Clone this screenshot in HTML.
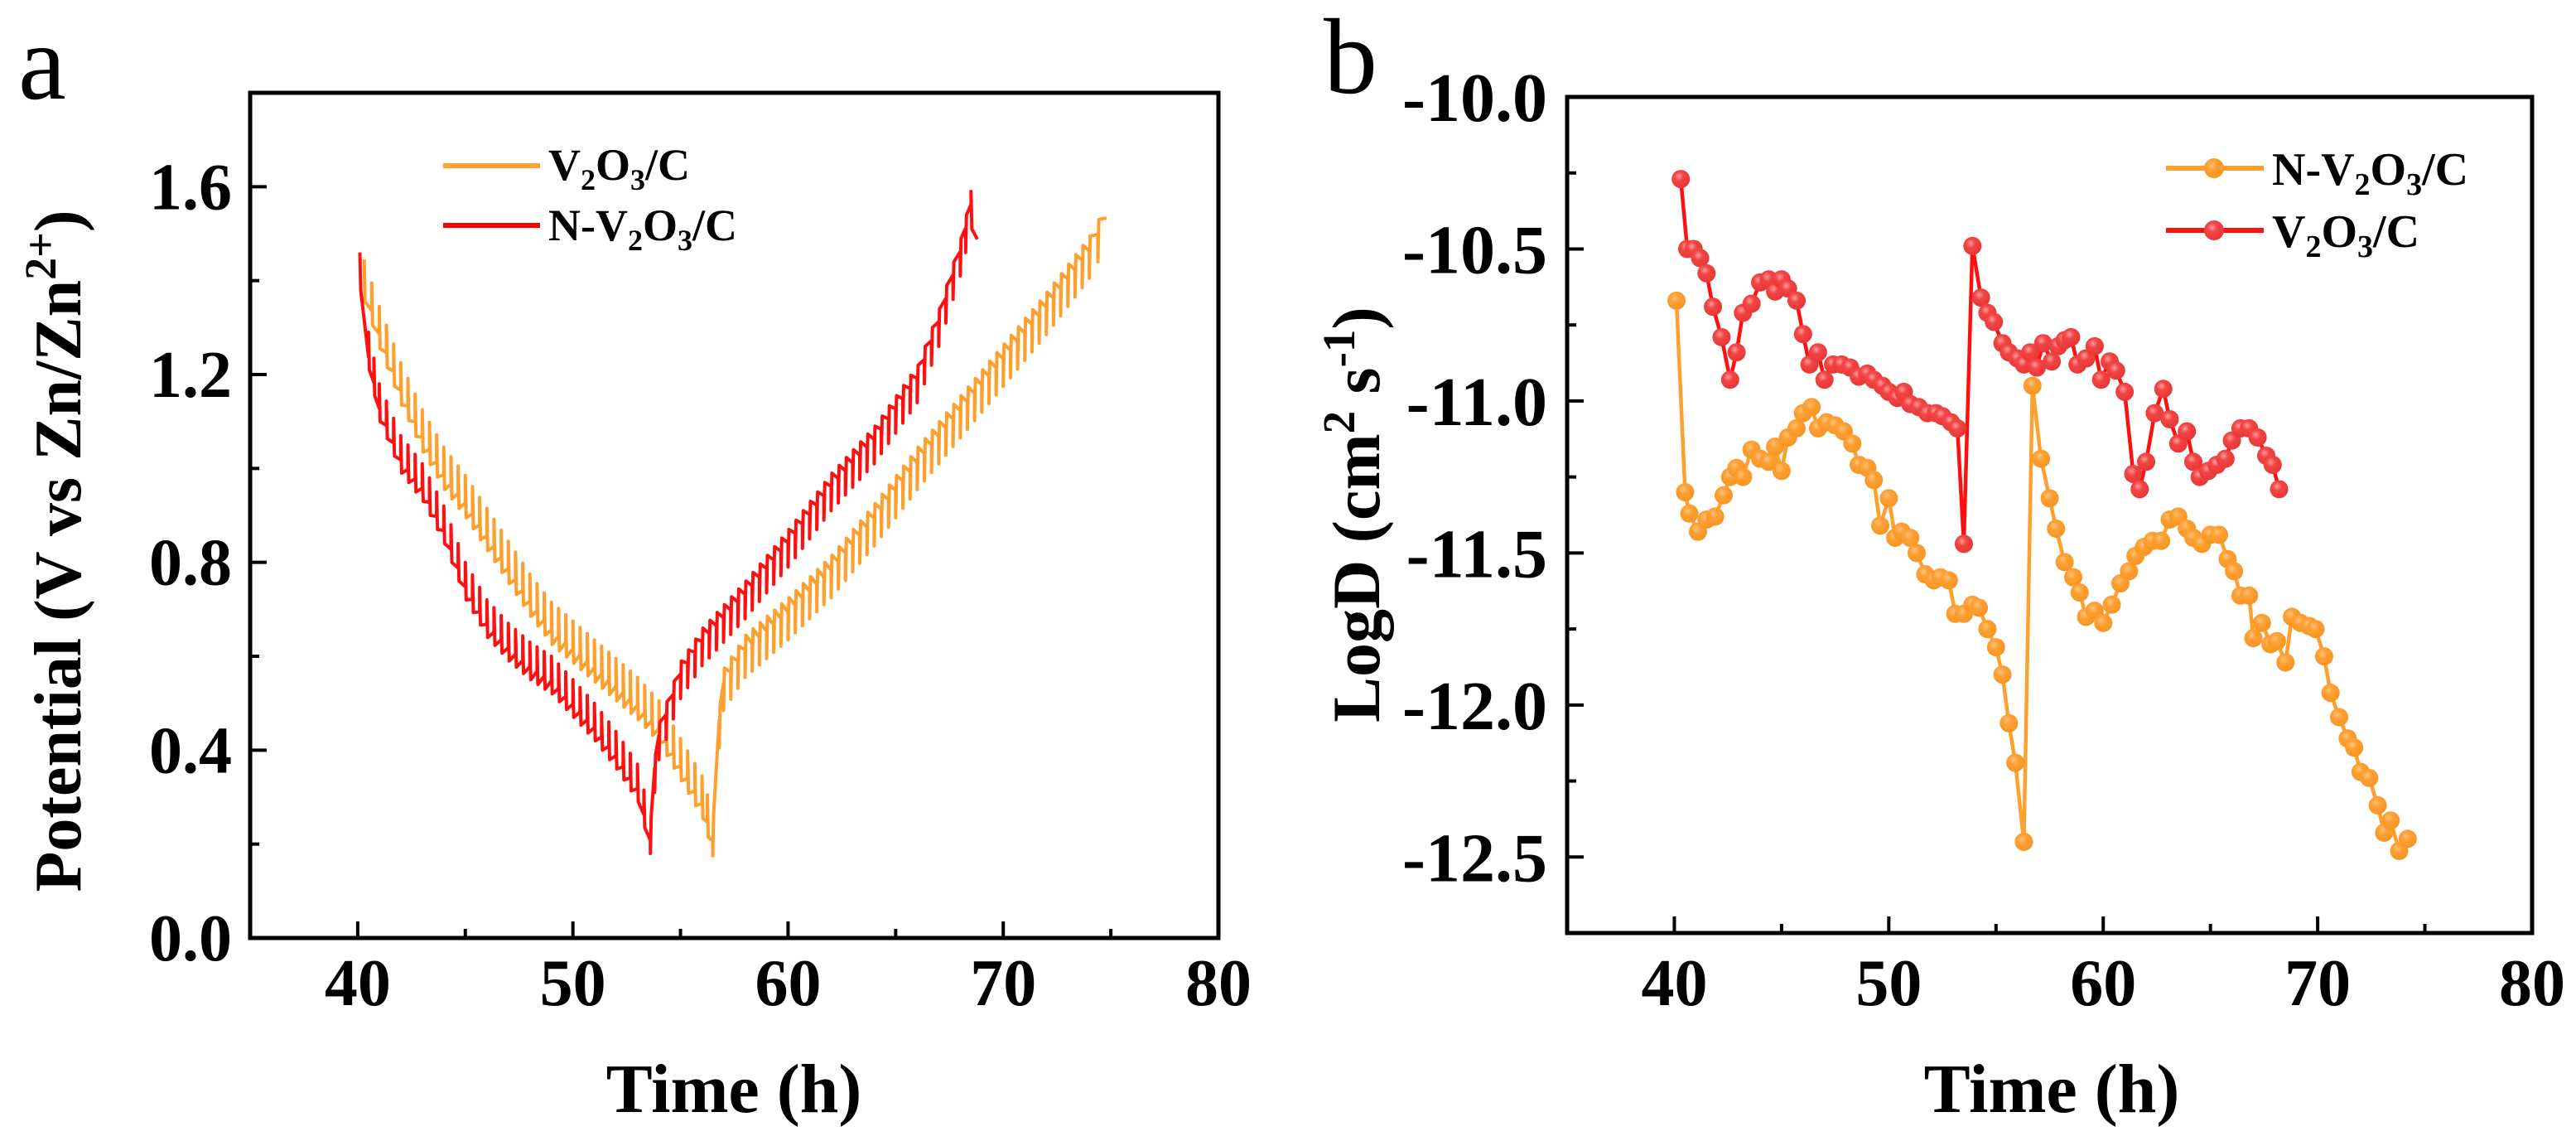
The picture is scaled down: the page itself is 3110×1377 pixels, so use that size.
<!DOCTYPE html>
<html><head><meta charset="utf-8"><style>
html,body{margin:0;padding:0;background:#fff;}
svg{display:block;font-family:"Liberation Serif",serif;}
</style></head><body>
<svg id="fig" width="3110" height="1377" viewBox="0 0 3110 1377" xmlns="http://www.w3.org/2000/svg">
<defs>
<radialGradient id="gO" cx="0.4" cy="0.35" r="0.7"><stop offset="0" stop-color="#FFC37A"/><stop offset="0.35" stop-color="#FFA035"/><stop offset="1" stop-color="#F59420"/></radialGradient>
<radialGradient id="gR" cx="0.4" cy="0.35" r="0.7"><stop offset="0" stop-color="#FF9A9A"/><stop offset="0.35" stop-color="#F24545"/><stop offset="1" stop-color="#E83434"/></radialGradient>
</defs>
<text x="22" y="119" font-size="130">a</text>
<text x="1598" y="112" font-size="130">b</text>
<g id="pa"></g>
<g id="pb"></g>
</svg>
<script>
// ---------- Panel a data (GITT envelope knots) ----------
const aV2O3Time = [40.3,41,42,43,44,45,46,47,48,49,50,51,52,53,54,55,56,56.5,56.8,57,58,60,62,64,66,68,70,72,74,74.8];
const aV2O3Pot  = [1.40,1.30,1.18,1.08,1.00,0.94,0.87,0.80,0.73,0.67,0.63,0.59,0.55,0.51,0.46,0.38,0.30,0.22,0.45,0.53,0.60,0.68,0.77,0.88,1.00,1.11,1.22,1.33,1.45,1.52];
const aNTime = [40.1,40.5,41,42,43,44,45,46,47,48,49,50,51,52,53,53.6,53.8,54,55,56,58,60,62,64,66,67,68,68.5,68.8];
const aNPot  = [1.42,1.25,1.14,1.03,0.97,0.88,0.76,0.68,0.63,0.59,0.56,0.51,0.46,0.40,0.33,0.22,0.35,0.42,0.55,0.62,0.72,0.83,0.95,1.05,1.18,1.30,1.45,1.55,1.50];
const aXTicks = [40,50,60,70,80];
const aYTicks = [0.0,0.4,0.8,1.2,1.6];
const aYLabels = ["0.0","0.4","0.8","1.2","1.6"];

// ---------- Panel b data ----------
const bNTime = [40.1,40.5,40.7,41.1,41.5,41.9,42.3,42.6,42.9,43.2,43.6,44.0,44.4,44.7,45.0,45.3,45.7,46.0,46.4,46.7,47.1,47.5,47.9,48.3,48.6,49.0,49.3,49.6,50.0,50.3,50.6,51.0,51.3,51.7,52.1,52.4,52.8,53.1,53.5,53.9,54.2,54.6,55.0,55.3,55.6,55.9,56.3,56.7,57.1,57.5,57.8,58.2,58.6,58.9,59.2,59.6,60.0,60.4,60.8,61.2,61.5,61.9,62.3,62.7,63.1,63.5,63.9,64.2,64.6,65.0,65.4,65.8,66.1,66.4,66.8,67.0,67.4,67.8,68.1,68.5,68.8,69.2,69.6,69.9,70.3,70.6,71.0,71.4,71.7,72.0,72.4,72.8,73.1,73.4,73.8,74.2];
const bNLog  = [-10.67,-11.30,-11.37,-11.43,-11.39,-11.38,-11.31,-11.25,-11.22,-11.25,-11.16,-11.19,-11.20,-11.15,-11.23,-11.12,-11.09,-11.04,-11.02,-11.09,-11.07,-11.08,-11.10,-11.14,-11.21,-11.22,-11.26,-11.41,-11.32,-11.45,-11.43,-11.45,-11.50,-11.57,-11.59,-11.58,-11.59,-11.70,-11.70,-11.67,-11.68,-11.75,-11.81,-11.90,-12.06,-12.19,-12.45,-10.95,-11.19,-11.32,-11.42,-11.53,-11.58,-11.63,-11.71,-11.69,-11.73,-11.67,-11.60,-11.56,-11.51,-11.48,-11.46,-11.46,-11.39,-11.38,-11.42,-11.45,-11.47,-11.44,-11.44,-11.52,-11.56,-11.64,-11.64,-11.78,-11.73,-11.80,-11.79,-11.86,-11.71,-11.73,-11.74,-11.75,-11.84,-11.96,-12.04,-12.11,-12.14,-12.22,-12.24,-12.33,-12.42,-12.38,-12.48,-12.44];
const bVTime = [40.3,40.6,40.9,41.2,41.5,41.8,42.2,42.6,42.9,43.2,43.6,44.0,44.4,44.7,45.0,45.3,45.7,46.0,46.3,46.7,47.0,47.4,47.8,48.2,48.6,49.0,49.3,49.7,50.0,50.4,50.7,51.0,51.4,51.8,52.2,52.5,52.9,53.2,53.5,53.9,54.3,54.6,54.9,55.3,55.6,56.0,56.3,56.6,56.9,57.2,57.6,57.9,58.2,58.5,58.8,59.2,59.6,59.9,60.3,60.6,61.0,61.4,61.7,62.0,62.4,62.8,63.1,63.5,63.9,64.2,64.5,64.9,65.3,65.7,66.0,66.4,66.8,67.2,67.6,67.9,68.2];
const bVLog  = [-10.27,-10.50,-10.50,-10.53,-10.58,-10.69,-10.79,-10.93,-10.84,-10.71,-10.68,-10.61,-10.60,-10.64,-10.60,-10.63,-10.67,-10.78,-10.88,-10.84,-10.93,-10.88,-10.88,-10.89,-10.92,-10.91,-10.93,-10.95,-10.97,-10.99,-10.97,-11.01,-11.02,-11.04,-11.04,-11.05,-11.07,-11.09,-11.47,-10.49,-10.66,-10.71,-10.74,-10.81,-10.84,-10.86,-10.88,-10.84,-10.89,-10.81,-10.87,-10.82,-10.80,-10.79,-10.88,-10.86,-10.82,-10.93,-10.87,-10.90,-10.97,-11.24,-11.29,-11.20,-11.04,-10.96,-11.06,-11.14,-11.10,-11.20,-11.25,-11.23,-11.21,-11.19,-11.13,-11.09,-11.09,-11.12,-11.18,-11.21,-11.29];
const bXTicks = [40,50,60,70,80];
const bYTicks = [-10.0,-10.5,-11.0,-11.5,-12.0,-12.5];
const bYLabels = ["-10.0","-10.5","-11.0","-11.5","-12.0","-12.5"];

const NS = "http://www.w3.org/2000/svg";
function mk(parent, tag, attrs, text){
  const e = document.createElementNS(NS, tag);
  for (const k in attrs) e.setAttribute(k, attrs[k]);
  if (text !== undefined) e.textContent = text;
  parent.appendChild(e);
  return e;
}

// ---------- Panel a ----------
(function(){
  const g = document.getElementById('pa');
  const L=302, R=1471, T=112, B=1132;
  const x0=35, x1=80, y0=0, y1=1.8;
  const sx = v => L + (v-x0)/(x1-x0)*(R-L);
  const sy = v => B - (v-y0)/(y1-y0)*(B-T);
  // minor/major ticks
  for (let v=40; v<=75; v+=5){
    const major = v%10===0;
    const t = mk(g,'line',{x1:sx(v),x2:sx(v),y1:B,y2:B-(major?20:11),stroke:'#000','stroke-width':4});
    
    
  }
  for (let v=0.2; v<1.8; v+=0.2){
    const major = Math.abs(v/0.4-Math.round(v/0.4))<0.01;
    const t = mk(g,'line',{x1:L,x2:L+(major?20:11),y1:sy(v),y2:sy(v),stroke:'#000','stroke-width':4});
    
    
  }
  aXTicks.forEach(v=>{
    const t = mk(g,'text',{x:sx(v),y:1213,'font-size':80,'font-weight':'bold','text-anchor':'middle'},String(v));
    
    
  });
  aYTicks.forEach((v,i)=>{
    const t = mk(g,'text',{x:280,y:sy(v)+27,'font-size':80,'font-weight':'bold','text-anchor':'end'},aYLabels[i]);
    
    
  });
  // sawtooth series
  function gitt(times, vals, amp, color, name){
    const pts=[];
    const step=0.33;
    for (let i=0;i<times.length-1;i++){
      const ta=times[i], tb=times[i+1], va=vals[i], vb=vals[i+1];
      const n=Math.max(1,Math.round((tb-ta)/step));
      const up = vb>va;
      for (let k=0;k<n;k++){
        const t1=ta+(tb-ta)*k/n, t2=ta+(tb-ta)*(k+1)/n;
        const v1=va+(vb-va)*k/n, v2=va+(vb-va)*(k+1)/n;
        if (up){ pts.push([sx(t1),sy(v1-amp)]); pts.push([sx(t1+0.04),sy(v1+amp)]); pts.push([sx(t2),sy(v2+amp*0.3)]); }
        else   { pts.push([sx(t1),sy(v1+amp)]); pts.push([sx(t1+0.04),sy(v1-amp)]); pts.push([sx(t2),sy(v2-amp*0.3)]); }
      }
    }
    const p = mk(g,'polyline',{points:pts.map(q=>q[0].toFixed(1)+','+q[1].toFixed(1)).join(' '),fill:'none',stroke:color,'stroke-width':4,'stroke-linejoin':'round'});
    
    
  }
  gitt(aV2O3Time,aV2O3Pot,0.045,'#FF9F2E','series-v2o3-c-potential');
  gitt(aNTime,aNPot,0.04,'#FF1010','series-n-v2o3-c-potential');
  const fr = mk(g,'rect',{x:L,y:T,width:R-L,height:B-T,fill:'none',stroke:'#000','stroke-width':5});
  
  
  // legend
  const l1 = mk(g,'line',{x1:535,x2:652,y1:200,y2:200,stroke:'#FF9F2E','stroke-width':6});
  
  
  const l2 = mk(g,'line',{x1:535,x2:652,y1:272,y2:272,stroke:'#FF0000','stroke-width':6});
  
  
})();

// ---------- Panel b ----------
(function(){
  const g = document.getElementById('pb');
  const L=1892, R=3057, T=117, B=1126;
  const x0=35, x1=80, y0=-12.75, y1=-10;
  const sx = v => L + (v-x0)/(x1-x0)*(R-L);
  const sy = v => B - (v-y0)/(y1-y0)*(B-T);
  for (let v=40; v<=75; v+=5){
    const major = v%10===0;
    const t = mk(g,'line',{x1:sx(v),x2:sx(v),y1:B,y2:B-(major?20:11),stroke:'#000','stroke-width':4});
    
    
  }
  for (let v=-12.75; v<-10; v+=0.25){
    const major = Math.abs(v*2-Math.round(v*2))<0.01;
    const t = mk(g,'line',{x1:L,x2:L+(major?20:11),y1:sy(v),y2:sy(v),stroke:'#000','stroke-width':4});
    
    
  }
  bXTicks.forEach(v=>{
    const t = mk(g,'text',{x:sx(v),y:1213,'font-size':80,'font-weight':'bold','text-anchor':'middle'},String(v));
    
    
  });
  bYTicks.forEach((v,i)=>{
    const t = mk(g,'text',{x:1868,y:sy(v)+29,'font-size':84,'font-weight':'bold','text-anchor':'end'},bYLabels[i]);
    
    
  });
  function series(times, vals, line, grad, name){
    const pts = times.map((t,i)=>sx(t).toFixed(1)+','+sy(vals[i]).toFixed(1)).join(' ');
    const p = mk(g,'polyline',{points:pts,fill:'none',stroke:line,'stroke-width':4.5,'stroke-linejoin':'round'});
    
    
    times.forEach((t,i)=>{
      const c = mk(g,'circle',{cx:sx(t),cy:sy(vals[i]),r:11,fill:'url(#'+grad+')'});
      
      
    });
  }
  series(bNTime,bNLog,'#FF9F2E','gO','series-n-v2o3-c');
  series(bVTime,bVLog,'#FF1010','gR','series-v2o3-c');
  const fr = mk(g,'rect',{x:L,y:T,width:R-L,height:B-T,fill:'none',stroke:'#000','stroke-width':5});
  
  
  const l1 = mk(g,'line',{x1:2615,x2:2733,y1:203,y2:203,stroke:'#FF9F2E','stroke-width':6});
  
  
  const m1 = mk(g,'circle',{cx:2673,cy:203,r:12,fill:'url(#gO)'});
  
  
  const l2 = mk(g,'line',{x1:2615,x2:2733,y1:278,y2:278,stroke:'#FF1010','stroke-width':6});
  
  
  const m2 = mk(g,'circle',{cx:2673,cy:278,r:12,fill:'url(#gR)'});
  
  
})();
</script>
<svg width="3110" height="1377" viewBox="0 0 3110 1377" xmlns="http://www.w3.org/2000/svg" style="position:absolute;left:0;top:0;font-family:'Liberation Serif',serif;">
  <text x="662" y="217" font-size="54" font-weight="bold">V<tspan font-size="36" dy="12">2</tspan><tspan dy="-12">O</tspan><tspan font-size="36" dy="12">3</tspan><tspan dy="-12">/C</tspan></text>
  <text x="662" y="290" font-size="54" font-weight="bold">N-V<tspan font-size="36" dy="12">2</tspan><tspan dy="-12">O</tspan><tspan font-size="36" dy="12">3</tspan><tspan dy="-12">/C</tspan></text>
  <text x="2743" y="223" font-size="56" font-weight="bold">N-V<tspan font-size="38" dy="12">2</tspan><tspan dy="-12">O</tspan><tspan font-size="38" dy="12">3</tspan><tspan dy="-12">/C</tspan></text>
  <text x="2743" y="298" font-size="56" font-weight="bold">V<tspan font-size="38" dy="12">2</tspan><tspan dy="-12">O</tspan><tspan font-size="38" dy="12">3</tspan><tspan dy="-12">/C</tspan></text>
  <text x="886" y="1342" font-size="84" font-weight="bold" text-anchor="middle">Time (h)</text>
  <text x="2477" y="1342" font-size="84" font-weight="bold" text-anchor="middle">Time (h)</text>
  <text transform="translate(97,665) rotate(-90)" font-size="80" font-weight="bold" text-anchor="middle">Potential (V vs Zn/Zn<tspan font-size="54" dy="-30">2+</tspan><tspan dy="30">)</tspan></text>
  <text transform="translate(1665,621) rotate(-90)" font-size="82" font-weight="bold" text-anchor="middle">LogD (cm<tspan font-size="55" dy="-30">2</tspan><tspan dy="30"> s</tspan><tspan font-size="55" dy="-30">-1</tspan><tspan dy="30">)</tspan></text>
</svg>
</body></html>
